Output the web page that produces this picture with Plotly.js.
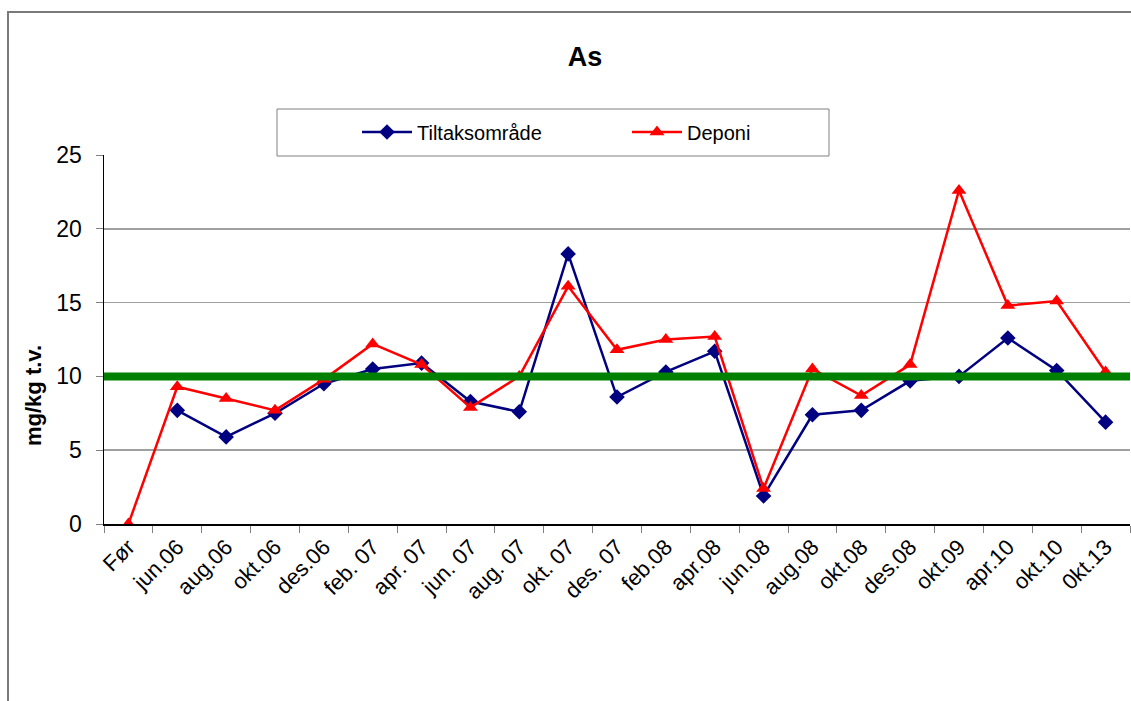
<!DOCTYPE html>
<html>
<head>
<meta charset="utf-8">
<script src="https://cdn.plot.ly/plotly-3.0.1.min.js"></script>
<style>
  html, body { margin: 0; padding: 0; background: #ffffff; }
  #chart { width: 1131px; height: 701px; }
</style>
</head>
<body>
<div id="chart"></div>
<script>
// ---- Data ----
const categories = ["Før", "jun.06", "aug.06", "okt.06", "des.06", "feb. 07", "apr. 07", "jun. 07",
  "aug. 07", "okt. 07", "des. 07", "feb.08", "apr.08", "jun.08", "aug.08", "okt.08", "des.08",
  "okt.09", "apr.10", "okt.10", "0kt.13"];

const tiltaksomrade = [null, 7.7, 5.9, 7.5, 9.5, 10.5, 10.9, 8.3, 7.6, 18.3, 8.6, 10.3, 11.7,
  1.9, 7.4, 7.7, 9.7, 10.0, 12.6, 10.4, 6.9];

const deponi = [0, 9.3, 8.5, 7.7, 9.8, 12.2, 10.8, 7.9, 10.0, 16.1, 11.8, 12.5, 12.7,
  2.4, 10.5, 8.7, 10.8, 22.6, 14.8, 15.1, 10.3];

const seriesNames = ["Tiltaksområde", "Deponi"];
const limitValue = 10;
const yTicks = [0, 5, 10, 15, 20, 25];

const FONT = "Liberation Sans, Arial, sans-serif";

const traces = [
  {
    x: categories, y: tiltaksomrade, name: seriesNames[0],
    type: "scatter", mode: "lines+markers",
    line: { color: "#000080", width: 2.5 },
    marker: { symbol: "diamond", size: 12, color: "#000080" },
    connectgaps: false
  },
  {
    x: categories, y: deponi, name: seriesNames[1],
    type: "scatter", mode: "lines+markers",
    line: { color: "#FF0000", width: 2.5 },
    marker: { symbol: "triangle-up", size: 13, color: "#FF0000" }
  }
];

const layout = {
  width: 1131, height: 701,
  margin: { l: 104, r: 1, t: 155, b: 177 },
  paper_bgcolor: "#ffffff", plot_bgcolor: "#ffffff",
  font: { family: FONT, color: "#000000" },
  showlegend: true,
  title: {
    text: "<b>As</b>", font: { family: FONT, size: 27, color: "#000" },
    xref: "paper", x: (585 - 104) / 1026, xanchor: "center",
    yref: "container", y: 1 - 57 / 701, yanchor: "middle"
  },
  xaxis: {
    type: "category", tickangle: -45,
    tickfont: { family: FONT, size: 22, color: "#000" },
    showline: true, linecolor: "#000", linewidth: 1.5,
    ticks: "outside", ticklen: 7, tickcolor: "#808080", tickwidth: 1,
    tickson: "boundaries", showgrid: false, zeroline: false,
    range: [-0.5, categories.length - 0.5], fixedrange: true
  },
  yaxis: {
    range: [0, 25], tickvals: yTicks, ticktext: yTicks.map(String),
    tickfont: { family: FONT, size: 23, color: "#000" },
    showline: true, linecolor: "#000", linewidth: 1.5,
    ticks: "outside", ticklen: 7, tickcolor: "#808080", tickwidth: 1,
    ticklabelstandoff: 9,
    showgrid: true, gridcolor: "#A0A0A0", gridwidth: 1.5,
    zeroline: false, fixedrange: true
  },
  legend: {
    orientation: "h", xref: "paper", yref: "paper",
    x: (357 - 104) / 1026, xanchor: "left",
    y: (524 - 132) / 369, yanchor: "middle",
    bgcolor: "rgba(0,0,0,0)", borderwidth: 0,
    font: { family: FONT, size: 20, color: "#000" },
    entrywidth: 205, entrywidthmode: "pixels", itemwidth: 50
  },
  annotations: [
    {
      text: "<b>mg/kg t.v.</b>", textangle: -90, showarrow: false,
      xref: "paper", yref: "paper",
      x: (33 - 104) / 1026, y: (524 - 396) / 369,
      xanchor: "center", yanchor: "middle",
      font: { family: FONT, size: 22, color: "#000" }
    }
  ],
  shapes: [
    // outer chart border
    {
      type: "rect", xref: "paper", yref: "paper", layer: "below",
      x0: (8 - 104) / 1026, x1: 1.05, y0: -0.6, y1: (524 - 12) / 369,
      line: { color: "#7a7a7a", width: 2 }, fillcolor: "rgba(0,0,0,0)"
    },
    // legend box
    {
      type: "rect", xref: "paper", yref: "paper", layer: "above",
      x0: (277 - 104) / 1026, x1: (829 - 104) / 1026,
      y0: (524 - 156) / 369, y1: (524 - 109) / 369,
      line: { color: "#808080", width: 1 }, fillcolor: "#ffffff"
    },
    // limit line
    {
      type: "line", xref: "paper", yref: "y", layer: "above",
      x0: 0, x1: 1, y0: limitValue, y1: limitValue,
      line: { color: "#008000", width: 8 }
    }
  ]
};

Plotly.newPlot("chart", traces, layout, { displayModeBar: false, staticPlot: true });
</script>
</body>
</html>
